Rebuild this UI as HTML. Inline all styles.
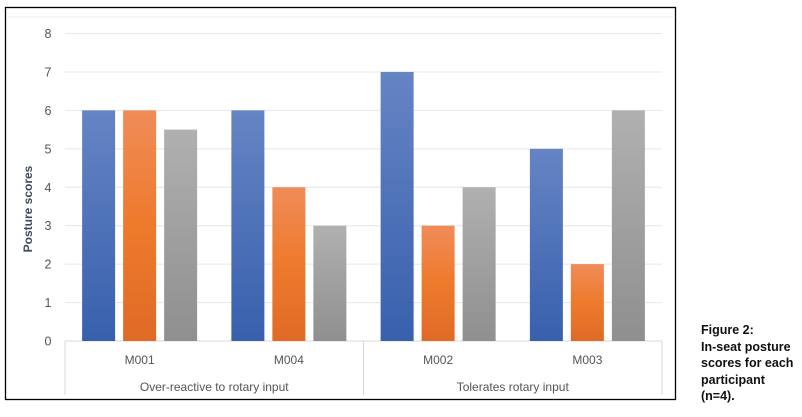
<!DOCTYPE html>
<html><head><meta charset="utf-8"><style>
body{margin:0;background:#fff;width:802px;height:417px;overflow:hidden;font-family:"Liberation Sans",sans-serif}
svg{position:absolute;left:0;top:0}
#cap{position:absolute;left:701px;top:322px;font-weight:bold;font-size:12.5px;line-height:16.6px;color:#111}
</style></head><body>
<svg width="802" height="417">
<defs>
<linearGradient id="gb" x1="0" y1="0" x2="0" y2="1"><stop offset="0" stop-color="#6584c4"/><stop offset="1" stop-color="#3860ad"/></linearGradient>
<linearGradient id="go" x1="0" y1="0" x2="0" y2="1"><stop offset="0" stop-color="#f08c58"/><stop offset="0.5" stop-color="#ee7a2c"/><stop offset="1" stop-color="#e06a26"/></linearGradient>
<linearGradient id="gg" x1="0" y1="0" x2="0" y2="1"><stop offset="0" stop-color="#b0b0b0"/><stop offset="1" stop-color="#8f8f8f"/></linearGradient>
</defs>
<rect x="5.5" y="7.5" width="670" height="392" fill="#fff" stroke="#000" stroke-width="1.3"/>
<line x1="6" y1="17" x2="675" y2="17" stroke="#eceff3"/>
<g id="grid"></g><g id="bars"></g><g id="axis"></g>
<text transform="translate(32,209) rotate(-90)" text-anchor="middle" font-size="12" font-weight="bold" fill="#404a5c">Posture scores</text>
</svg>
<div id="cap">Figure 2:<br>In-seat posture<br>scores for each<br>participant<br>(n=4).</div>
<script>
const categories=["M001","M004","M002","M003"];
const groups=["Over-reactive to rotary input","Tolerates rotary input"];
const series1=[6,6,7,5];
const series2=[6,4,3,2];
const series3=[5.5,3,4,6];
const yTicks=[0,1,2,3,4,5,6,7,8];
const NS="http://www.w3.org/2000/svg";
const x0=65,x1=662,y0=341,yTop=33.5,yMax=8;
const y=v=>y0-(y0-yTop)*v/yMax;
const cw=(x1-x0)/categories.length;
const xc=i=>x0+cw*(i+0.5);
function mk(p,t,a){const e=document.createElementNS(NS,t);for(const k in a)e.setAttribute(k,a[k]);document.getElementById(p).appendChild(e);return e;}
yTicks.forEach(v=>{
 const l=mk('grid','line',{x1:x0,x2:x1,y1:y(v),y2:y(v),stroke:v===0?'#d9d9d9':'#e4e7ec','stroke-width':1});
 
 
 const t=mk('axis','text',{x:48,y:y(v)+4.5,'font-size':12.5,fill:'#555','text-anchor':'middle'});t.textContent=v;
 
 
});
const ser=[[series1,'url(#gb)'],[series2,'url(#go)'],[series3,'url(#gg)']];
categories.forEach((c,i)=>{
 ser.forEach(([d,f],s)=>{
  const bx=xc(i)+(s-1)*41-16.5;
  const r=mk('bars','rect',{x:bx,y:y(d[i]),width:33,height:y0-y(d[i]),fill:f});
  
  
 });
 const t=mk('axis','text',{x:xc(i),y:364,'font-size':12,fill:'#555','text-anchor':'middle'});t.textContent=c;
 
 
});
[0,2,4].forEach(k=>{
 const l=mk('axis','line',{x1:x0+cw*k,x2:x0+cw*k,y1:y0,y2:395,stroke:'#d9d9d9'});
 
 
});
groups.forEach((g,j)=>{
 const t=mk('axis','text',{x:x0+cw*(2*j+1),y:391,'font-size':12,fill:'#555','text-anchor':'middle'});t.textContent=g;
 
 
});
</script>
</body></html>
